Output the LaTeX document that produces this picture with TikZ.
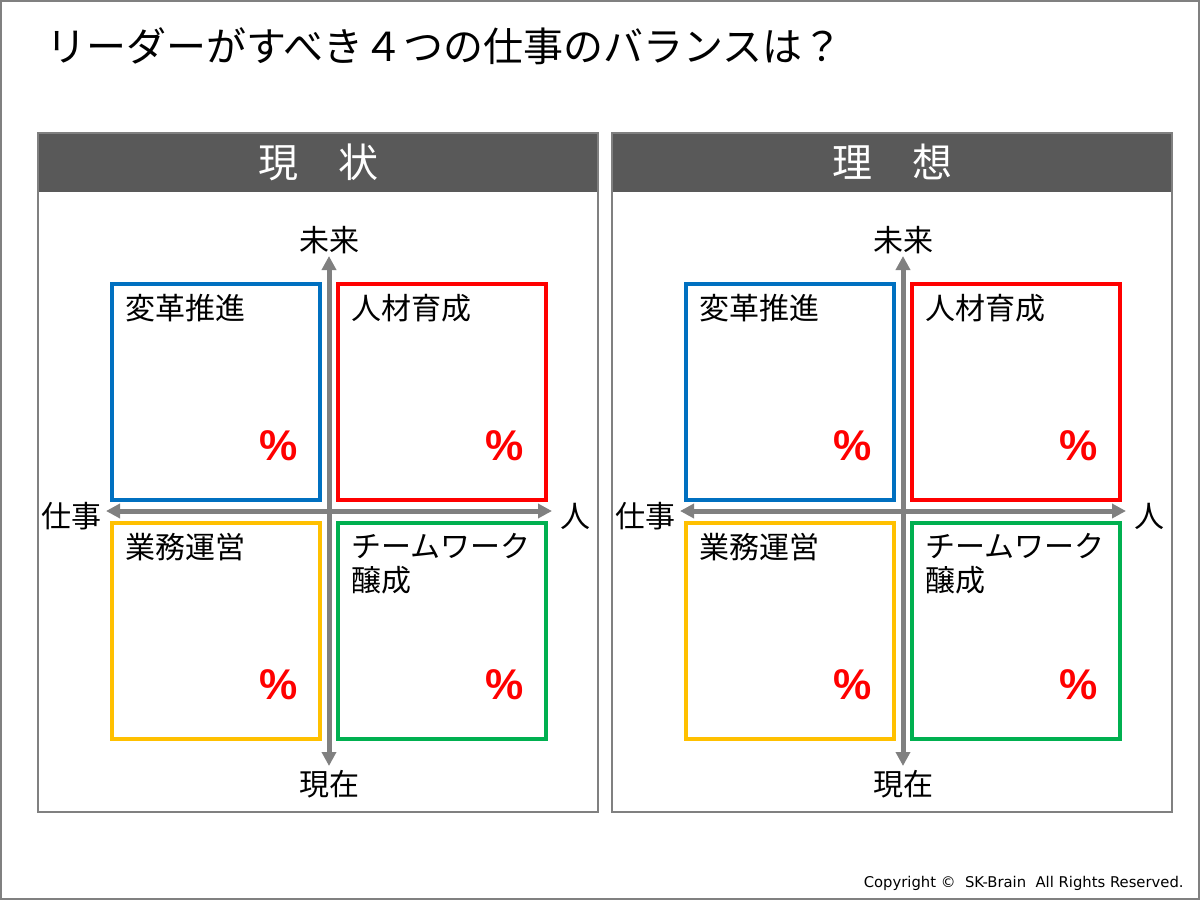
\documentclass[tikz,border=0pt]{standalone}
\usepackage{fontspec}
\setmainfont{Noto Sans CJK JP}
\newfontfamily\latinfont{DejaVu Sans}
\newfontfamily\pctfont{Liberation Sans}
\definecolor{qblue}{HTML}{0070C0}
\definecolor{qred}{HTML}{FF0000}
\definecolor{qyellow}{HTML}{FFC000}
\definecolor{qgreen}{HTML}{00B050}
\definecolor{axgray}{HTML}{808080}
\definecolor{headgray}{HTML}{595959}
\usetikzlibrary{positioning,arrows.meta}

\begin{document}
\begin{tikzpicture}[
    x=0.5pt,y=-0.5pt,
    box/.style={draw,line width=2pt,minimum width=104pt,minimum height=108pt,inner sep=0},
    qlabel/.style={inner sep=0,align=left,font=\fontsize{15}{17}\selectfont},
    pct/.style={inner sep=0,text=qred,font=\pctfont\bfseries\fontsize{21.5}{24}\selectfont},
    axis/.style={draw=axgray,line width=2.5pt,{Triangle[length=7pt,width=7pt]}-{Triangle[length=7pt,width=7pt]}},
    axlabel/.style={inner sep=0,font=\fontsize{15}{17}\selectfont},
  ]
  \draw[axgray,line width=1pt] (1,1) rectangle (1199,899);
  \node[anchor=west,inner sep=0,font=\fontsize{20}{22}\selectfont] (title) at (46,46)
    {リーダーがすべき４つの仕事のバランスは？};

  \foreach \dx/\head/\nm in {0/現　状/now, 574/理　想/ideal}{
    \begin{scope}[shift={(\dx,0)}]
      \fill[headgray] (38,133) rectangle (598,192);
      \draw[axgray,line width=1pt] (38,133) rectangle (598,812);
      \node[text=white,font=\fontsize{20}{22}\selectfont] (\nm-head) at (318,162) {\head};
      % quadrants
      \node[box,draw=qblue] (\nm-blue) at (216,391.5) {};
      \node[box,draw=qred] (\nm-red) at (442,391.5) {};
      \node[box,draw=qyellow] (\nm-yellow) at (216,630.5) {};
      \node[box,draw=qgreen] (\nm-green) at (442,630.5) {};
      \node[qlabel,below right=6pt and 7.5pt of \nm-blue.north west] {変革推進};
      \node[qlabel,below right=6pt and 7.5pt of \nm-red.north west] {人材育成};
      \node[qlabel,below right=6pt and 7.5pt of \nm-yellow.north west] {業務運営};
      \node[qlabel,below right=6pt and 7.5pt of \nm-green.north west] {チームワーク\\醸成};
      \node[pct,above left=20pt and 12pt of \nm-blue.south east] {\%};
      \node[pct,above left=20pt and 12pt of \nm-red.south east] {\%};
      \node[pct,above left=20pt and 12pt of \nm-yellow.south east] {\%};
      \node[pct,above left=20pt and 12pt of \nm-green.south east] {\%};
      % axes
      \coordinate (\nm-top) at (329,256);
      \coordinate (\nm-bot) at (329,766);
      \coordinate (\nm-left) at (106,511);
      \coordinate (\nm-right) at (552,511);
      \draw[axis] (\nm-bot) -- (\nm-top);
      \draw[axis] (\nm-left) -- (\nm-right);
      \node[axlabel,above=1pt of \nm-top] {未来};
      \node[axlabel,below=2pt of \nm-bot] {現在};
      \node[axlabel,left=2pt of \nm-left,yshift=-2.5pt] {仕事};
      \node[axlabel,right=4pt of \nm-right,yshift=-2.5pt] {人};
    \end{scope}
  }

  \node[anchor=base east,inner sep=0,font=\latinfont\fontsize{7.4}{9}\selectfont] (copy) at (1184,887)
    {Copyright ©\ \ SK-Brain\ \ All Rights Reserved.};
\end{tikzpicture}
\end{document}
